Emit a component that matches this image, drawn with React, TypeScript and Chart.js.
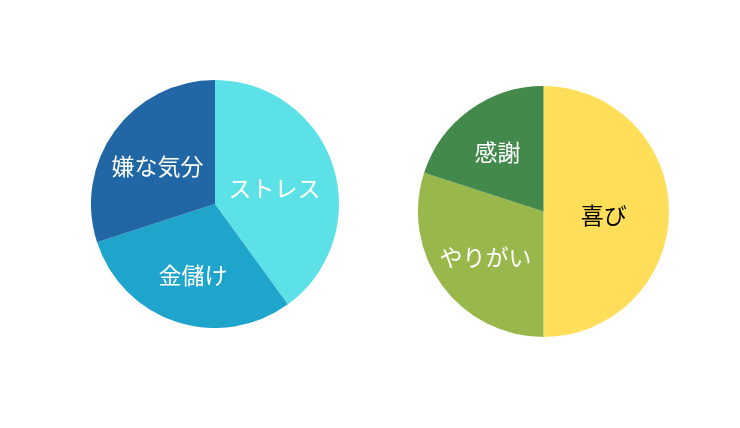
import React, { useEffect, useRef } from "react";
import Chart from "chart.js/auto";

const leftLabels = ["ストレス", "金儲け", "嫌な気分"];
const leftValues = [40, 30, 30];
const leftColors = ["#5ce1e6", "#1fa5cb", "#2167a5"];
const leftTextColors = ["#ffffff", "#ffffff", "#ffffff"];

const rightLabels = ["喜び", "やりがい", "感謝"];
const rightValues = [50, 30, 20];
const rightColors = ["#ffde59", "#99b84c", "#43894b"];
const rightTextColors = ["#000000", "#ffffff", "#ffffff"];

// label at the sector's centroid (kept a bit away from the centre)
const sliceLabels = {
  id: "sliceLabels",
  afterDatasetsDraw(chart: any, _args: any, opts: any) {
    const { ctx } = chart;
    const meta = chart.getDatasetMeta(0);
    ctx.save();
    ctx.font = '23px "Noto Sans CJK JP", sans-serif';
    ctx.textAlign = "center";
    ctx.textBaseline = "middle";
    meta.data.forEach((arc: any, i: number) => {
      const { x, y, startAngle, endAngle, outerRadius } = arc.getProps(
        ["x", "y", "startAngle", "endAngle", "outerRadius"],
        true
      );
      const half = (endAngle - startAngle) / 2;
      const mid = startAngle + half;
      const ratio = Math.max((2 * Math.sin(half)) / (3 * half), 0.48);
      const r = outerRadius * ratio;
      ctx.fillStyle = opts.colors[i];
      ctx.fillText(chart.data.labels[i], x + Math.cos(mid) * r, y + Math.sin(mid) * r + 4);
    });
    ctx.restore();
  },
};

interface PieProps {
  labels: string[];
  values: number[];
  colors: string[];
  textColors: string[];
  style: React.CSSProperties;
}

const PieCanvas: React.FC<PieProps> = ({ labels, values, colors, textColors, style }) => {
  const canvasRef = useRef<HTMLCanvasElement | null>(null);

  useEffect(() => {
    if (!canvasRef.current) return;

    const chart = new Chart(canvasRef.current, {
      type: "pie",
      data: {
        labels,
        datasets: [
          {
            data: values,
            backgroundColor: colors,
            borderWidth: 0,
          },
        ],
      },
      options: {
        responsive: true,
        maintainAspectRatio: false,
        animation: false,
        layout: { padding: 0 },
        plugins: {
          legend: { display: false },
          tooltip: { enabled: false },
          sliceLabels: { colors: textColors },
        } as any,
      },
      plugins: [sliceLabels],
    });

    return () => chart.destroy();
  }, [labels, values, colors, textColors]);

  return (
    <div style={{ position: "absolute", ...style }}>
      <canvas ref={canvasRef}></canvas>
    </div>
  );
};

export default function App() {
  return (
    <div
      style={{
        position: "fixed",
        left: 0,
        top: 0,
        width: "740px",
        height: "428px",
        background: "#fff",
      }}
    >
      <PieCanvas
        labels={leftLabels}
        values={leftValues}
        colors={leftColors}
        textColors={leftTextColors}
        style={{ left: "91px", top: "79.5px", width: "248px", height: "248px" }}
      />
      <PieCanvas
        labels={rightLabels}
        values={rightValues}
        colors={rightColors}
        textColors={rightTextColors}
        style={{ left: "418px", top: "86px", width: "251px", height: "251px" }}
      />
    </div>
  );
}
